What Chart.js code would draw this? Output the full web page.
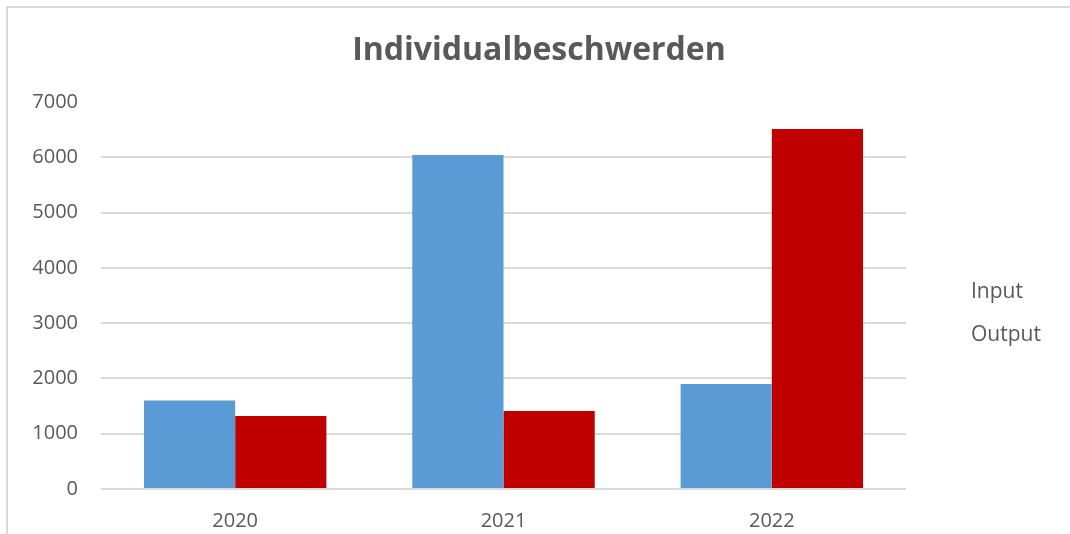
<!DOCTYPE html>
<html>
<head>
<meta charset="utf-8">
<script src="https://cdn.jsdelivr.net/npm/chart.js@4/dist/chart.umd.min.js"></script>
<style>
html,body{margin:0;padding:0;background:#fff;}
#wrap{width:1070px;height:534px;position:relative;}
</style>
</head>
<body>
<div id="wrap"><canvas id="c" width="1070" height="534"></canvas></div>
<script>
const categories = ['2020', '2021', '2022'];
const inputValues = [1600, 6040, 1900];
const outputValues = [1320, 1410, 6510];
const seriesLabels = ['Input', 'Output'];
const yTicks = [0, 1000, 2000, 3000, 4000, 5000, 6000, 7000];
const chartTitle = 'Individualbeschwerden';

const TEXT = '#595959';
const GRID = '#d9d9d9';

const framePlugin = {
  id: 'frame',
  beforeDraw(chart) {
    const ctx = chart.ctx;
    ctx.save();
    ctx.fillStyle = '#fff';
    ctx.fillRect(0, 0, chart.width, chart.height);
    ctx.strokeStyle = GRID;
    ctx.lineWidth = 2;
    ctx.beginPath();
    ctx.moveTo(7, chart.height);
    ctx.lineTo(7, 7);
    ctx.lineTo(chart.width, 7);
    ctx.stroke();
    ctx.restore();
  }
};

const textPlugin = {
  id: 'titleAndLegend',
  afterDraw(chart) {
    const ctx = chart.ctx;
    ctx.save();
    // title
    ctx.font = 'bold 32px "Open Sans"';
    ctx.fillStyle = TEXT;
    ctx.textAlign = 'center';
    ctx.textBaseline = 'middle';
    ctx.fillText(chartTitle, chart.width / 2 + 4, 51);
    // legend (text only)
    ctx.font = '21px "Open Sans"';
    ctx.textAlign = 'left';
    const x = chart.chartArea.right + 65;
    const mid = (chart.chartArea.top + chart.chartArea.bottom) / 2;
    chart.data.datasets.forEach((ds, i) => {
      ctx.fillText(ds.label, x, mid - 3 + i * 43);
    });
    ctx.restore();
  }
};

new Chart(document.getElementById('c'), {
  type: 'bar',
  data: {
    labels: categories,
    datasets: [
      { label: seriesLabels[0], data: inputValues, backgroundColor: '#5B9BD5' },
      { label: seriesLabels[1], data: outputValues, backgroundColor: '#C00000' }
    ]
  },
  options: {
    responsive: false,
    animation: false,
    devicePixelRatio: 1,
    layout: { padding: { left: 0, right: 164, top: 102, bottom: 0 } },
    datasets: { bar: { categoryPercentage: 0.68, barPercentage: 1.0 } },
    plugins: {
      legend: { display: false },
      tooltip: { enabled: false },
      title: { display: false }
    },
    scales: {
      x: {
        grid: { display: false, drawTicks: false },
        border: { display: false },
        ticks: { color: TEXT, font: { family: 'Open Sans', size: 20 }, padding: 20 },
        afterFit(scale) { scale.height = 45; }
      },
      y: {
        min: 0,
        max: 7000,
        afterBuildTicks(scale) { scale.ticks = yTicks.map(v => ({ value: v })); },
        grid: {
          drawTicks: false,
          color: ctx => (ctx.tick && ctx.tick.value === 7000) ? 'rgba(0,0,0,0)' : GRID,
          lineWidth: 2
        },
        border: { display: false },
        ticks: {
          color: TEXT,
          font: { family: 'Open Sans', size: 20 },
          padding: 23,
          callback: v => String(v)
        },
        afterFit(scale) { scale.width = 101; }
      }
    }
  },
  plugins: [framePlugin, textPlugin]
});
</script>
</body>
</html>
